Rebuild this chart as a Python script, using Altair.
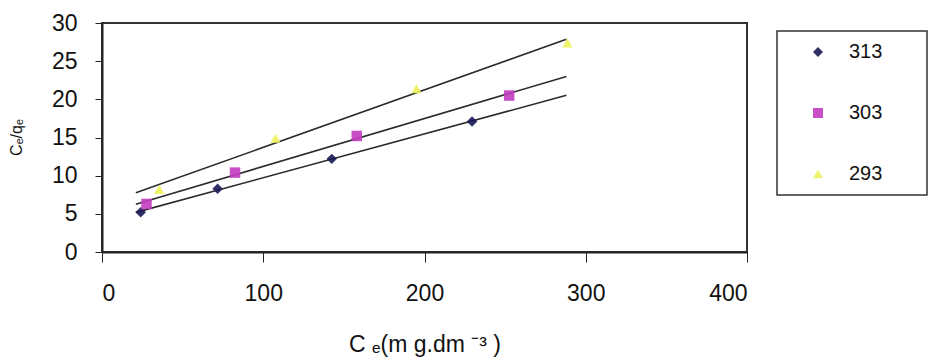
import altair as alt
import pandas as pd

# Ce/qe versus Ce for three temperatures (K)
temps = ["313", "303", "293"]
ce_313 = [24.0, 71.7, 142.5, 229.5]
ratio_313 = [5.2, 8.3, 12.2, 17.1]
ce_303 = [27.6, 82.5, 158.0, 252.5]
ratio_303 = [6.3, 10.4, 15.2, 20.5]
ce_293 = [35.5, 107.6, 195.0, 288.6]
ratio_293 = [8.2, 14.9, 21.4, 27.4]

rows = []
for t, xs, ys in [("313", ce_313, ratio_313), ("303", ce_303, ratio_303), ("293", ce_293, ratio_293)]:
    for x, y in zip(xs, ys):
        rows.append({"T": t, "Ce": x, "ratio": y})
df = pd.DataFrame(rows)

colors = ["#1b1a55", "#c23cc0", "#eef25e"]
shapes = ["diamond", "square", "triangle-up"]

FONT = "Liberation Sans"

x_enc = alt.X(
    "Ce:Q",
    scale=alt.Scale(domain=[0, 400], nice=False),
    axis=alt.Axis(
        values=[0, 100, 200, 300, 400],
        grid=False,
        tickSize=10,
        tickColor="#222",
        domainColor="#222",
        domainWidth=2,
        labelFontSize=23,
        labelPadding=20,
        labelColor="#111",
        labelFont=FONT,
        labelOverlap=False,
        title="C ₑ(m g.dm ⁻³ )",
        titleFont=FONT,
        titleFontSize=23,
        titleFontWeight="normal",
        titleColor="#111",
        titlePadding=28,
    ),
)
y_enc = alt.Y(
    "ratio:Q",
    scale=alt.Scale(domain=[0, 30], nice=False),
    axis=alt.Axis(
        values=[0, 5, 10, 15, 20, 25, 30],
        grid=False,
        tickSize=7,
        tickColor="#222",
        domainColor="#222",
        domainWidth=2,
        labelFontSize=23,
        labelPadding=18,
        labelColor="#111",
        labelFont=FONT,
        labelOverlap=False,
        labelBound=False,
        title="Cₑ/qₑ",
        titleFont=FONT,
        titleFontSize=16,
        titleFontWeight="normal",
        titleColor="#111",
        titleX=-78,
        titleY=114,
    ),
)

# trailing padding keeps the legend frame as wide as the plot's right margin;
# the zero-width space stops the padding from being trimmed
pad = "\u00a0" * 6 + "\u200b"

color_enc = alt.Color(
    "T:N",
    sort=temps,
    scale=alt.Scale(domain=temps, range=colors),
    legend=alt.Legend(
        title=None,
        orient="none",
        legendX=675,
        legendY=8,
        padding=11,
        rowPadding=41,
        symbolOffset=20,
        symbolSize=100,
        symbolStrokeWidth=0,
        labelFontSize=20,
        labelFont=FONT,
        labelColor="#111",
        labelOffset=21,
        labelExpr=f"datum.label + '{pad}'",
        strokeColor="#333",
        fillColor="white",
    ),
)
shape_enc = alt.Shape("T:N", sort=temps, scale=alt.Scale(domain=temps, range=shapes), legend=None)

points = alt.Chart(df).mark_point(filled=True, size=110, opacity=0.9).encode(
    x=x_enc, y=y_enc, color=color_enc, shape=shape_enc
)

# least-squares trend line for each temperature
fits = (
    alt.Chart(df)
    .transform_regression("Ce", "ratio", groupby=["T"], extent=[21, 288])
    .mark_line(color="#2a2a2a", strokeWidth=1.6)
    .encode(x=x_enc, y=y_enc, detail="T:N")
)

chart = (
    alt.layer(fits, points)
    .properties(
        width=645,
        height=229,
        autosize=alt.AutoSizeParams(type="none"),
        padding={"left": 102, "top": 23, "right": 183, "bottom": 109},
        background="white",
    )
    .configure_view(stroke="#333", strokeWidth=2)
    .configure_legend(strokeWidth=1.5)
)

chart.save("out.html", embed_options={"renderer": "svg", "actions": False})
